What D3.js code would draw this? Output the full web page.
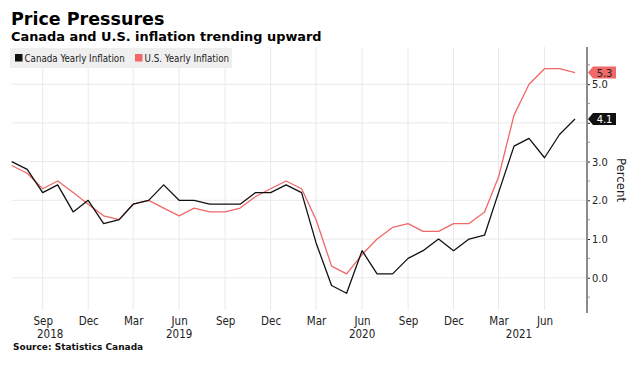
<!DOCTYPE html>
<html>
<head>
<meta charset="utf-8">
<script src="https://cdn.jsdelivr.net/npm/d3@7"></script>
<style>
  body { margin: 0; background: #fff; }
  svg { display: block; font-family: "DejaVu Sans", Verdana, sans-serif; }
</style>
</head>
<body>
<div class="graph"><svg></svg></div>
<script>
// monthly, Jul 2018 .. Aug 2021
const startMonth = [2018, 6]
const canada = [3.0, 2.8, 2.2, 2.4, 1.7, 2.0, 1.4, 1.5, 1.9, 2.0, 2.4, 2.0,
  2.0, 1.9, 1.9, 1.9, 2.2, 2.2, 2.4, 2.2, 0.9, -0.2, -0.4, 0.7,
  0.1, 0.1, 0.5, 0.7, 1.0, 0.7, 1.0, 1.1, 2.2, 3.4, 3.6, 3.1, 3.7, 4.1]
const us = [2.9, 2.7, 2.3, 2.5, 2.2, 1.9, 1.6, 1.5, 1.9, 2.0, 1.8, 1.6,
  1.8, 1.7, 1.7, 1.8, 2.1, 2.3, 2.5, 2.3, 1.5, 0.3, 0.1, 0.6,
  1.0, 1.3, 1.4, 1.2, 1.2, 1.4, 1.4, 1.7, 2.6, 4.2, 5.0, 5.4, 5.4, 5.3]
const seriesNames = ['Canada Yearly Inflation', 'U.S. Yearly Inflation']
const monthTicks = ['Sep', 'Dec', 'Mar', 'Jun', 'Sep', 'Dec', 'Mar', 'Jun', 'Sep', 'Dec', 'Mar', 'Jun']
const yearLabels = [['2018', 2018, 8, 16], ['2019', 2019, 5, 1], ['2020', 2020, 5, 1], ['2021', 2021, 3, 11]]
const yMajor = [0, 1, 2, 3, 4, 5]
const yMinor = [-0.5, 0.5, 1.5, 2.5, 3.5, 4.5, 5.5]

const colors = ['#111111', '#f06868']
const W = 636, H = 368
const plot = { left: 11.7, right: 587, top: 47, bottom: 313 }
const condensed = '"DejaVu Sans Condensed", "DejaVu Sans", sans-serif'

const dates = canada.map((d, i) => new Date(startMonth[0], startMonth[1] + i, 1))
const tickDates = monthTicks.map((m, i) => new Date(2018, 8 + i * 3, 1))

const svg = d3.select('svg').attr('width', W).attr('height', H)

const x = d3.scaleTime()
  .domain([dates[0], new Date(2021, 7, 25)])
  .range([plot.left, plot.right])
const y = d3.scaleLinear()
  .domain([-0.91, 5.96])
  .range([plot.bottom, plot.top])

// titles
svg.append('text')
  .attr('x', 11).attr('y', 25)
  .attr('font-size', '17.5px').attr('font-weight', 'bold').attr('fill', '#000')
  .text('Price Pressures')
svg.append('text')
  .attr('x', 11).attr('y', 41)
  .attr('font-size', '12.9px').attr('font-weight', 'bold').attr('fill', '#000')
  .text('Canada and U.S. inflation trending upward')

// grid
const g = svg.append('g')
g.selectAll('.vgrid').data(tickDates).enter().append('line')
  .attr('x1', d => x(d)).attr('x2', d => x(d))
  .attr('y1', plot.top).attr('y2', plot.bottom - 3)
  .attr('stroke', '#e9e9e9').attr('stroke-width', 1)
g.selectAll('.hgrid').data(yMajor).enter().append('line')
  .attr('x1', plot.left).attr('x2', plot.right)
  .attr('y1', d => y(d)).attr('y2', d => y(d))
  .attr('stroke', '#e9e9e9').attr('stroke-width', 1)

// legend
const legend = svg.append('g')
legend.append('rect')
  .attr('x', 10).attr('y', 48).attr('width', 222).attr('height', 20)
  .attr('fill', '#efefef')
const legX = [15, 135]
seriesNames.forEach((name, i) => {
  legend.append('rect')
    .attr('x', legX[i]).attr('y', 54).attr('width', 7.5).attr('height', 7.5)
    .attr('fill', colors[i])
  legend.append('text')
    .attr('x', legX[i] + 9.5).attr('y', 61.5)
    .attr('font-size', '9.7px').attr('fill', '#222')
    .attr('font-family', condensed)
    .text(name)
})

// lines
const line = d3.line().x((d, i) => x(dates[i])).y(d => y(d))
;[us, canada].forEach((s, k) => {
  svg.append('path')
    .datum(s)
    .attr('d', line)
    .attr('fill', 'none')
    .attr('stroke', k === 0 ? colors[1] : colors[0])
    .attr('stroke-width', 1.3)
    .attr('stroke-linejoin', 'round')
})

// right axis (the 4.0 label sits under the Canada tag, hidden as in the source)
const yAxis = svg.append('g')
  .attr('transform', 'translate(' + plot.right + ',0)')
  .call(d3.axisRight(y).tickValues(yMajor).tickSize(3).tickPadding(2)
    .tickFormat(d => d === 4 ? '' : d3.format('.1f')(d)))
yAxis.select('.domain').remove()
yAxis.selectAll('text')
  .attr('font-size', '11px').attr('fill', '#222')
  .attr('font-family', condensed)
yAxis.selectAll('line').attr('stroke', '#222')
svg.selectAll('.minor').data(yMinor).enter().append('line')
  .attr('x1', plot.right).attr('x2', plot.right + 3)
  .attr('y1', d => y(d)).attr('y2', d => y(d))
  .attr('stroke', '#999')
svg.append('line')
  .attr('x1', plot.right).attr('x2', plot.right)
  .attr('y1', plot.top).attr('y2', plot.bottom)
  .attr('stroke', '#8c8c8c').attr('stroke-width', 2)

svg.append('text')
  .attr('transform', 'translate(617,' + ((plot.top + plot.bottom) / 2) + ') rotate(90)')
  .attr('text-anchor', 'middle')
  .attr('font-size', '13px').attr('fill', '#222')
  .attr('font-family', condensed)
  .text('Percent')

// bottom axis
const xAxis = svg.append('g')
  .attr('transform', 'translate(0,' + plot.bottom + ')')
  .call(d3.axisBottom(x).tickValues(tickDates).tickSize(0).tickPadding(3.5)
    .tickFormat((d, i) => monthTicks[i]))
xAxis.select('.domain').remove()
xAxis.selectAll('text')
  .attr('font-size', '11.5px').attr('fill', '#222')
  .attr('font-family', condensed)
svg.selectAll('.year').data(yearLabels).enter().append('text')
  .attr('x', d => x(new Date(d[1], d[2], d[3])))
  .attr('y', 338)
  .attr('text-anchor', 'middle')
  .attr('font-size', '11.5px').attr('fill', '#222')
  .attr('font-family', condensed)
  .text(d => d[0])

// last value tags
const tags = [[us, colors[1], '#222'], [canada, colors[0], '#fff']]
tags.forEach(([s, fill, txt]) => {
  const v = s[s.length - 1]
  const cy = y(v)
  const tag = svg.append('g').attr('transform', 'translate(' + (plot.right + 1) + ',' + cy + ')')
  tag.append('path')
    .attr('d', 'M0,0 L5,-6 L28,-6 L28,6 L5,6 Z')
    .attr('fill', fill)
  tag.append('text')
    .attr('x', 16.5).attr('y', 4)
    .attr('text-anchor', 'middle')
    .attr('font-size', '11px').attr('fill', txt)
    .attr('font-family', condensed)
    .text(d3.format('.1f')(v))
})

// source
svg.append('text')
  .attr('x', 13).attr('y', 350)
  .attr('font-size', '9px').attr('font-weight', 'bold').attr('fill', '#111')
  .text('Source: Statistics Canada')
</script>
</body>
</html>
